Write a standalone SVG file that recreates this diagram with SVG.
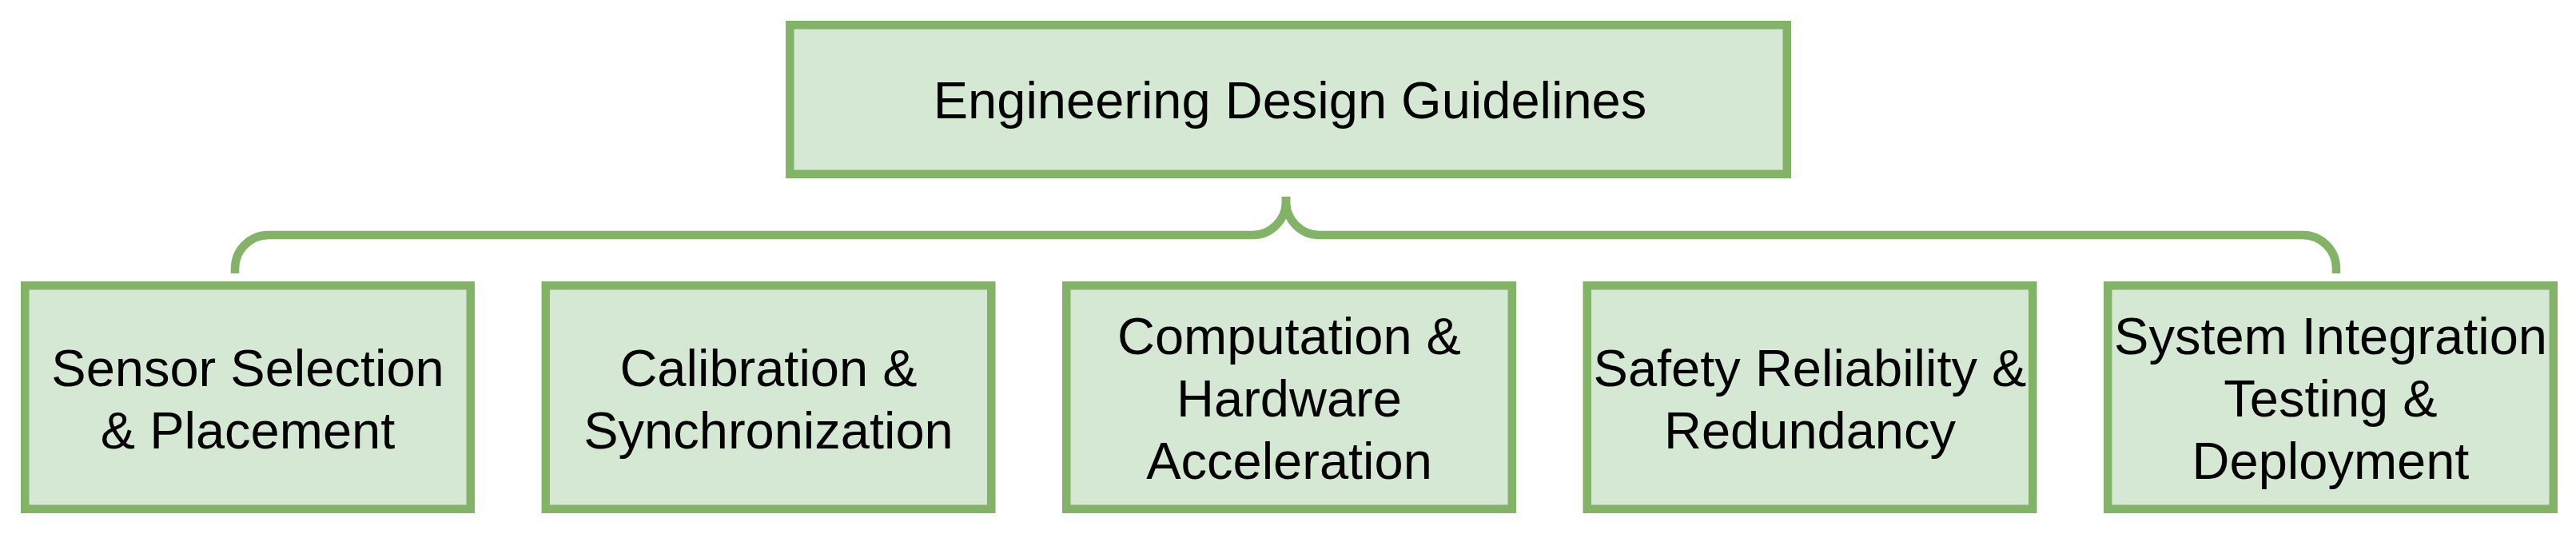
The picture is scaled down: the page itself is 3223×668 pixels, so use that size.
<svg xmlns="http://www.w3.org/2000/svg" width="3223" height="668" viewBox="0 0 3223 668">
<style>
.box{fill:#d5e8d4;stroke:#82b366;stroke-width:10.5}
.lbl{font-family:"Liberation Sans",Arial,sans-serif;font-size:65px;fill:#000;text-anchor:middle}
.conn{fill:none;stroke:#82b366;stroke-width:10.5}
</style>
<rect width="3223" height="668" fill="#ffffff"/>
<g id="connectors">
<path class="conn" d="M 294 342 L 294 336 A 42 42 0 0 1 336 294 L 1567 294 A 42 42 0 0 0 1609 252 L 1609 246"/>
<path class="conn" d="M 1609 246 L 1609 252 A 42 42 0 0 0 1651 294 L 2881 294 A 42 42 0 0 1 2923 336 L 2923 342"/>
</g>
<g id="root">
<rect class="box" x="988.25" y="31.25" width="1247.5" height="186.5"/>
<text class="lbl" x="1614" y="148">Engineering Design Guidelines</text>
</g>
<g id="n1">
<rect class="box" x="31.25" y="357.25" width="557.5" height="279.5"/>
<text class="lbl" x="310" y="483">Sensor Selection</text>
<text class="lbl" x="310" y="561">&amp; Placement</text>
</g>
<g id="n2">
<rect class="box" x="682.75" y="357.25" width="557.5" height="279.5"/>
<text class="lbl" x="961.5" y="483">Calibration &amp;</text>
<text class="lbl" x="961.5" y="561">Synchronization</text>
</g>
<g id="n3">
<rect class="box" x="1334.25" y="357.25" width="557.5" height="279.5"/>
<text class="lbl" x="1613" y="443">Computation &amp;</text>
<text class="lbl" x="1613" y="521">Hardware</text>
<text class="lbl" x="1613" y="599">Acceleration</text>
</g>
<g id="n4">
<rect class="box" x="1985.75" y="357.25" width="557.5" height="279.5"/>
<text class="lbl" x="2264.5" y="483">Safety Reliability &amp;</text>
<text class="lbl" x="2264.5" y="561">Redundancy</text>
</g>
<g id="n5">
<rect class="box" x="2637.25" y="357.25" width="557.5" height="279.5"/>
<text class="lbl" x="2916" y="443">System Integration</text>
<text class="lbl" x="2916" y="521">Testing &amp;</text>
<text class="lbl" x="2916" y="599">Deployment</text>
</g>
</svg>
